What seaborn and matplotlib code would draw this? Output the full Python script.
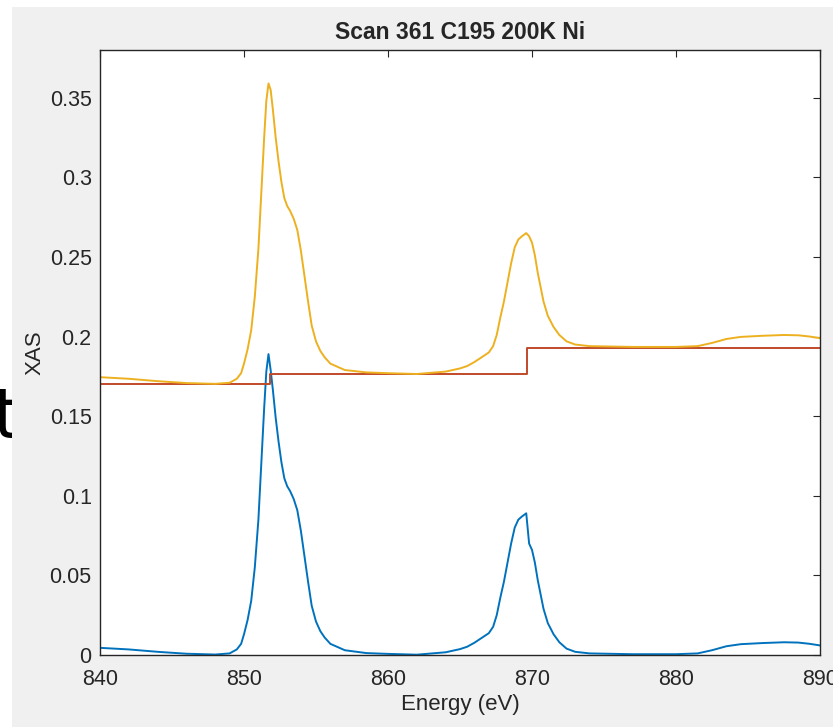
import seaborn as sns
import pandas as pd
import matplotlib.pyplot as plt
import numpy as np
from matplotlib.patches import Rectangle
from matplotlib.ticker import FormatStrFormatter

sns.set_style('white')
plt.rcParams['font.family'] = ['Liberation Sans', 'DejaVu Sans']

# energy grid (eV)
energy = [840, 842, 844, 846, 848, 849, 849.5, 849.8,
          850.0, 850.25, 850.5, 850.75,
          851.0, 851.2, 851.4, 851.55, 851.7, 851.85,
          852.0, 852.2, 852.4, 852.6, 852.8,
          853.0, 853.2, 853.45, 853.7, 853.95,
          854.2, 854.45, 854.7,
          855.0, 855.3, 855.6,
          856, 857, 858.5, 860, 862,
          864, 865, 865.5, 866, 866.5,
          867.0, 867.3, 867.55, 867.8,
          868.05, 868.3, 868.55, 868.8,
          869.05, 869.3, 869.6, 869.8,
          870.0, 870.2, 870.4, 870.6, 870.8,
          871.1, 871.5, 871.9,
          872.4, 873, 874, 877,
          880, 881.5, 882.5, 883.5, 884.5,
          886, 887.5, 888.5, 889.3, 890]

# raw XAS (yellow)
xas_raw = [0.1745, 0.1735, 0.172, 0.1708, 0.1703, 0.171, 0.1735, 0.177,
           0.183, 0.192, 0.204, 0.225,
           0.255, 0.29, 0.325, 0.348, 0.359, 0.355,
           0.343, 0.325, 0.31, 0.297, 0.287,
           0.282, 0.279, 0.274, 0.267, 0.254,
           0.238, 0.222, 0.207,
           0.197, 0.191, 0.187,
           0.183, 0.179, 0.1775, 0.177, 0.1765,
           0.178, 0.180, 0.1815, 0.184, 0.187,
           0.190, 0.194, 0.201, 0.212,
           0.222, 0.234, 0.246, 0.256,
           0.261, 0.263, 0.265, 0.263,
           0.259, 0.251, 0.240, 0.231, 0.222,
           0.213, 0.206, 0.201,
           0.197, 0.195, 0.194, 0.1935,
           0.1935, 0.194, 0.196, 0.1985, 0.1998,
           0.2005, 0.201, 0.2008, 0.2, 0.199]

# background subtracted XAS (blue)
xas_sub = [0.0045, 0.0035, 0.002, 0.0008, 0.0003, 0.001, 0.0035, 0.007,
           0.013, 0.022, 0.034, 0.055,
           0.085, 0.12, 0.155, 0.178, 0.189, 0.179,
           0.167, 0.149, 0.134, 0.121, 0.111,
           0.106, 0.103, 0.098, 0.091, 0.078,
           0.062, 0.046, 0.031,
           0.021, 0.015, 0.011,
           0.007, 0.003, 0.0012, 0.0007, 0.0002,
           0.0017, 0.0037, 0.0052, 0.0077, 0.0107,
           0.0137, 0.0177, 0.025, 0.036,
           0.046, 0.058, 0.070, 0.080,
           0.085, 0.087, 0.089, 0.070,
           0.066, 0.058, 0.047, 0.038, 0.029,
           0.020, 0.013, 0.008,
           0.004, 0.002, 0.001, 0.0005,
           0.0005, 0.001, 0.003, 0.0055, 0.0068,
           0.0075, 0.008, 0.0078, 0.007, 0.006]

# edge step background
step_energy = [840, 851.8, 869.65, 890]
step_value = [0.170, 0.1763, 0.193, 0.193]

colors = ['#0072BD', '#BF4A2A', '#EDB120']

df = pd.DataFrame({'energy': energy, 'raw': xas_raw, 'sub': xas_sub})
df_step = pd.DataFrame({'energy': step_energy, 'step': step_value})

fig = plt.figure(figsize=(8.33, 7.27), dpi=100)
fig.patch.set_facecolor('white')
fig.patches.append(Rectangle((12 / 833, 0), 1, 720 / 727, transform=fig.transFigure,
                             facecolor='#f0f0f0', edgecolor='none', zorder=-1))
fig.text(-0.009, 0.397, 't', fontsize=50, color='black', zorder=-2,
         family=['DejaVu Sans'])

ax = fig.add_axes([100 / 833, 72 / 727, 720 / 833, 605 / 727])
ax.set_facecolor('white')

sns.lineplot(data=df, x='energy', y='sub', color=colors[0], lw=1.4, ax=ax)
sns.lineplot(data=df_step, x='energy', y='step', color=colors[1], lw=1.4,
             drawstyle='steps-post', ax=ax)
sns.lineplot(data=df, x='energy', y='raw', color=colors[2], lw=1.4, ax=ax)

ax.set_xlim(840, 890)
ax.set_ylim(0, 0.38)
ax.set_xticks(np.arange(840, 891, 10))
ax.set_yticks(np.arange(0, 0.351, 0.05))
ax.yaxis.set_major_formatter(FormatStrFormatter('%g'))

ax.tick_params(direction='in', length=5, width=0.8, colors='#262626',
               labelsize=15.5, top=True, right=True)
ax.tick_params(axis='x', pad=10)
ax.tick_params(axis='y', pad=6)
for s in ax.spines.values():
    s.set_color('#262626')
    s.set_linewidth(1.0)

ax.set_xlabel('Energy (eV)', fontsize=16, color='#262626')
ax.set_ylabel('XAS', fontsize=16, color='#262626')
ax.xaxis.set_label_coords(0.5, -0.064)
ax.yaxis.set_label_coords(-0.076, 0.5)
ax.set_title('Scan 361 C195 200K Ni', fontsize=16.5, fontweight='bold', pad=8)

plt.savefig('out.png', dpi=100)
